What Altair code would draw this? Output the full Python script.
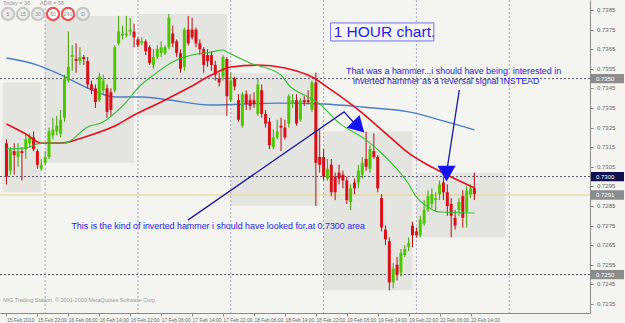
import json
import altair as alt
import pandas as pd

# ---------------- data (H1 bars, bar 0 = 15 Feb 2010 14:00) ----------------
bar_open = [0.7317, 0.7303, 0.7313, 0.7310, 0.7313, 0.7314, 0.7317, 0.7320, 0.7313, 0.7304,
            0.7307, 0.7310, 0.7321, 0.7323, 0.7322, 0.7330, 0.7349, 0.7361, 0.7360, 0.7359,
            0.7361, 0.7359, 0.7347, 0.7345, 0.7339, 0.7344, 0.7345, 0.7343, 0.7344, 0.7368,
            0.7372, 0.7372, 0.7374, 0.7374, 0.7370, 0.7368, 0.7369, 0.7366, 0.7357, 0.7361,
            0.7363, 0.7363, 0.7366, 0.7373, 0.7369, 0.7363, 0.7356, 0.7375, 0.7375, 0.7375,
            0.7368, 0.7365, 0.7362, 0.7362, 0.7357, 0.7350, 0.7351, 0.7360, 0.7339, 0.7350,
            0.7339, 0.7326, 0.7342, 0.7339, 0.7339, 0.7332, 0.7344, 0.7332, 0.7328, 0.7315,
            0.7320, 0.7326, 0.7325, 0.7327, 0.7337, 0.7339, 0.7329, 0.7339, 0.7339, 0.7334,
            0.7348, 0.7310, 0.7310, 0.7299, 0.7306, 0.7300, 0.7302, 0.7301, 0.7298, 0.7287,
            0.7297, 0.7297, 0.7301, 0.7309, 0.7304, 0.7313, 0.7310, 0.7289, 0.7273, 0.7267,
            0.7246, 0.7255, 0.7251, 0.7260, 0.7264, 0.7275, 0.7272, 0.7270, 0.7276, 0.7283,
            0.7286, 0.7288, 0.7291, 0.7297, 0.7292, 0.7286, 0.7279, 0.7283, 0.7290, 0.7282,
            0.7291, 0.7294]
bar_high = [0.7319, 0.7315, 0.7317, 0.7317, 0.7315, 0.7322, 0.7322, 0.7323, 0.7314, 0.7309,
            0.7313, 0.7325, 0.7330, 0.7331, 0.7334, 0.7352, 0.7374, 0.7367, 0.7368, 0.7366,
            0.7362, 0.7361, 0.7349, 0.7347, 0.7353, 0.7352, 0.7347, 0.7345, 0.7367, 0.7382,
            0.7377, 0.7382, 0.7381, 0.7378, 0.7371, 0.7371, 0.7370, 0.7367, 0.7365, 0.7367,
            0.7369, 0.7367, 0.7383, 0.7377, 0.7370, 0.7365, 0.7376, 0.7382, 0.7381, 0.7376,
            0.7370, 0.7366, 0.7365, 0.7364, 0.7359, 0.7353, 0.7362, 0.7361, 0.7353, 0.7351,
            0.7342, 0.7343, 0.7344, 0.7342, 0.7343, 0.7350, 0.7347, 0.7334, 0.7330, 0.7324,
            0.7329, 0.7330, 0.7329, 0.7342, 0.7342, 0.7342, 0.7340, 0.7341, 0.7344, 0.7349,
            0.7353, 0.7324, 0.7314, 0.7309, 0.7309, 0.7302, 0.7306, 0.7303, 0.7300, 0.7296,
            0.7299, 0.7306, 0.7310, 0.7323, 0.7316, 0.7322, 0.7311, 0.7291, 0.7275, 0.7269,
            0.7256, 0.7259, 0.7263, 0.7265, 0.7269, 0.7277, 0.7274, 0.7280, 0.7288, 0.7293,
            0.7294, 0.7292, 0.7298, 0.7300, 0.7296, 0.7289, 0.7283, 0.7289, 0.7293, 0.7295,
            0.7296, 0.7302]
bar_low = [0.7296, 0.7301, 0.7301, 0.7305, 0.7298, 0.7309, 0.7315, 0.7313, 0.7304, 0.7303,
           0.7306, 0.7309, 0.7319, 0.7321, 0.7320, 0.7328, 0.7348, 0.7354, 0.7353, 0.7357,
           0.7357, 0.7345, 0.7342, 0.7335, 0.7338, 0.7342, 0.7330, 0.7331, 0.7343, 0.7367,
           0.7370, 0.7371, 0.7372, 0.7366, 0.7366, 0.7367, 0.7362, 0.7357, 0.7355, 0.7360,
           0.7361, 0.7362, 0.7365, 0.7366, 0.7361, 0.7353, 0.7354, 0.7367, 0.7370, 0.7366,
           0.7362, 0.7353, 0.7356, 0.7354, 0.7349, 0.7346, 0.7349, 0.7331, 0.7338, 0.7344,
           0.7328, 0.7325, 0.7334, 0.7334, 0.7335, 0.7331, 0.7330, 0.7325, 0.7314, 0.7314,
           0.7319, 0.7313, 0.7319, 0.7325, 0.7335, 0.7326, 0.7328, 0.7336, 0.7337, 0.7333,
           0.7285, 0.7302, 0.7298, 0.7298, 0.7290, 0.7288, 0.7296, 0.7294, 0.7286, 0.7283,
           0.7291, 0.7294, 0.7299, 0.7303, 0.7302, 0.7309, 0.7292, 0.7272, 0.7265, 0.7242,
           0.7243, 0.7247, 0.7249, 0.7259, 0.7262, 0.7264, 0.7269, 0.7269, 0.7275, 0.7282,
           0.7284, 0.7282, 0.7288, 0.7288, 0.7280, 0.7269, 0.7273, 0.7280, 0.7274, 0.7274,
           0.7289, 0.7288]
bar_close = [0.7300, 0.7314, 0.7311, 0.7313, 0.7312, 0.7319, 0.7320, 0.7314, 0.7306, 0.7306,
             0.7310, 0.7323, 0.7324, 0.7326, 0.7329, 0.7350, 0.7356, 0.7362, 0.7359, 0.7361,
             0.7360, 0.7347, 0.7344, 0.7338, 0.7351, 0.7349, 0.7333, 0.7334, 0.7366, 0.7374,
             0.7373, 0.7373, 0.7375, 0.7371, 0.7367, 0.7369, 0.7364, 0.7358, 0.7361, 0.7365,
             0.7366, 0.7366, 0.7381, 0.7368, 0.7363, 0.7355, 0.7375, 0.7368, 0.7371, 0.7368,
             0.7365, 0.7357, 0.7359, 0.7357, 0.7352, 0.7348, 0.7361, 0.7341, 0.7349, 0.7346,
             0.7329, 0.7342, 0.7337, 0.7336, 0.7337, 0.7347, 0.7332, 0.7327, 0.7316, 0.7320,
             0.7323, 0.7325, 0.7320, 0.7341, 0.7339, 0.7327, 0.7339, 0.7338, 0.7338, 0.7348,
             0.7307, 0.7306, 0.7300, 0.7304, 0.7292, 0.7292, 0.7299, 0.7298, 0.7288, 0.7294,
             0.7294, 0.7303, 0.7307, 0.7305, 0.7314, 0.7310, 0.7294, 0.7274, 0.7268, 0.7246,
             0.7253, 0.7250, 0.7261, 0.7263, 0.7266, 0.7270, 0.7270, 0.7278, 0.7283, 0.7290,
             0.7291, 0.7289, 0.7296, 0.7292, 0.7285, 0.7280, 0.7275, 0.7287, 0.7279, 0.7293,
             0.7294, 0.7291]

# moving averages read at sample bars
ma_long_bar = [0, 8, 13, 21, 28, 35, 42, 53, 70, 82, 92, 104, 113, 121]
ma_long_val = [0.73605, 0.73569, 0.73529, 0.73452, 0.73406, 0.73406, 0.73391, 0.73365,
               0.73375, 0.73370, 0.73355, 0.73330, 0.73284, 0.73238]
ma_mid_bar = [0, 5, 9, 14, 21, 28, 33, 40, 47, 53, 58, 65, 72, 79, 84, 91, 98, 104, 109, 114, 121]
ma_mid_val = [0.73268, 0.73217, 0.73171, 0.73171, 0.73207, 0.73258, 0.73314, 0.73381, 0.73452,
              0.73518, 0.73559, 0.73569, 0.73554, 0.73508, 0.73442, 0.73340, 0.73222, 0.73120,
              0.73059, 0.73008, 0.72942]
ma_fast_bar = [0, 5, 9, 15, 21, 25, 28, 31, 34, 38, 44, 47, 53, 56, 57, 63, 71, 73, 78, 81,
               86, 93, 98, 104, 106, 109, 112, 121]
ma_fast_val = [0.73141, 0.73146, 0.73171, 0.73171, 0.73253, 0.73279, 0.73324, 0.73381, 0.73452,
               0.73518, 0.73595, 0.73615, 0.73636, 0.73646, 0.73636, 0.73580, 0.73518, 0.73467,
               0.73406, 0.73370, 0.73274, 0.73187, 0.73100, 0.72962, 0.72896, 0.72845, 0.72819,
               0.72814]

# daily range boxes
day_start = [-1, 10, 34, 58, 82, 106]
day_end = [9, 33, 57, 81, 105, 129]
day_high = [0.7348, 0.7382, 0.7383, 0.7353, 0.7323, 0.7302]
day_low = [0.7292, 0.7307, 0.7331, 0.7285, 0.7242, 0.7269]

date_label_bars = list(range(0, 121, 8))
date_labels = ["15 Feb 2010", "15 Feb 22:00", "16 Feb 06:00", "16 Feb 14:00", "16 Feb 22:00",
               "17 Feb 06:00", "17 Feb 14:00", "17 Feb 22:00", "18 Feb 06:00", "18 Feb 14:00",
               "18 Feb 22:00", "19 Feb 06:00", "19 Feb 14:00", "19 Feb 22:00", "22 Feb 06:00",
               "22 Feb 14:00"]
price_ticks = [0.7235, 0.7245, 0.7255, 0.7265, 0.7275, 0.7285, 0.7295, 0.7305, 0.7315,
               0.7325, 0.7335, 0.7345, 0.7355, 0.7365, 0.7375, 0.7385]
day_sep_bars = [10, 34, 58, 82, 106, 130]
level_lines = [0.7350, 0.7300, 0.7250]
bid_price = 0.72906

marker_prices = [0.7350, 0.7300, 0.72906, 0.7250]
marker_text = ["0.7350", "0.7300", "0.7291", "0.7250"]
marker_kind = ["grey", "navy", "grey", "grey"]

tf_buttons = ["5", "15", "30", "60", "240", "D"]
tf_active = [False, False, False, True, True, False]

# annotations anchored in (bar, price)
arrow1_bar = [46.9, 87.3, 89.6]
arrow1_price = [0.72778, 0.73330, 0.73280]
arrow2_bar = [117.1, 114.0]
arrow2_price = [0.73442, 0.73044]
notes = ["That was a hammer...i should have being\u00a0 interested in",
         "inverted hammer as a reversal signal INSTEAD",
         "This is the kind of inverted hammer i should have looked for.at 0.7300 area"]
notes_bar = [87.8, 89.6, 16.8]
notes_price = [0.73539, 0.73488, 0.72748]

# ---------------- chart ----------------
FONT = "Liberation Sans"
n = len(bar_open)
candles = pd.DataFrame({"bar": list(range(n)), "open": bar_open, "high": bar_high,
                        "low": bar_low, "close": bar_close})
candles["dir"] = ["up" if c >= o else "down" for o, c in zip(bar_open, bar_close)]

XS = alt.Scale(domain=[-0.38, 149.6], nice=False, zero=False)
YS = alt.Scale(domain=[0.72304, 0.73901], nice=False, zero=False)

XA = alt.Axis(values=date_label_bars, labelExpr=json.dumps(date_labels) + "[round(datum.value/8)]",
              orient="bottom", labelAlign="left", labelFontSize=4.9, labelColor="#6a6a6a",
              labelFont=FONT, tickSize=3, tickColor="#8a8a8a", domainColor="#8a8a8a",
              labelPadding=1, title=None, grid=False, labelOverlap=False, labelFlush=False)
YA = alt.Axis(values=price_ticks, orient="right", labels=False, tickSize=3,
              tickColor="#8a8a8a", domainColor="#8a8a8a", title=None, grid=False)


def X(f):
    return alt.X(f, scale=XS, axis=XA)


def Y(f):
    return alt.Y(f, scale=YS, axis=YA)


days = pd.DataFrame({"s": day_start, "e": day_end, "hi": day_high, "lo": day_low})
boxes = alt.Chart(days).mark_rect(color="#E4E4E0", clip=True).encode(
    x=X("s:Q"), x2="e:Q", y=Y("hi:Q"), y2="lo:Q")

seps = alt.Chart(pd.DataFrame({"b": day_sep_bars})).mark_rule(
    color="#A8A8C4", strokeDash=[2, 2], strokeWidth=1, clip=True).encode(x=X("b:Q"))

levels = alt.Chart(pd.DataFrame({"p": level_lines})).mark_rule(
    color="#55556a", strokeDash=[2, 2], strokeWidth=1).encode(y=Y("p:Q"))

bidline = alt.Chart(pd.DataFrame({"p": [bid_price]})).mark_rule(
    color="#F0D27A", strokeWidth=1).encode(y=Y("p:Q"))

wicks = alt.Chart(candles).mark_rule(strokeWidth=1, clip=True).encode(
    x=X("bar:Q"), y=Y("low:Q"), y2="high:Q",
    color=alt.Color("dir:N", scale=alt.Scale(domain=["up", "down"], range=["#3FA000", "#B01015"]),
                    legend=None))
bodies = alt.Chart(candles).mark_bar(size=3, clip=True).encode(
    x=X("bar:Q"), y=Y("open:Q"), y2="close:Q",
    color=alt.Color("dir:N", scale=alt.Scale(domain=["up", "down"], range=["#4CC800", "#D81018"]),
                    legend=None))


def ma_layer(bars, vals, color, w):
    d = pd.DataFrame({"b": bars, "v": vals})
    return alt.Chart(d).mark_line(color=color, strokeWidth=w, interpolate="monotone", clip=True).encode(
        x=X("b:Q"), y=Y("v:Q"))


ma_long = ma_layer(ma_long_bar, ma_long_val, "#4A7DC8", 1.4)
ma_mid = ma_layer(ma_mid_bar, ma_mid_val, "#E8101C", 1.6)
ma_fast = ma_layer(ma_fast_bar, ma_fast_val, "#2EC02E", 1.1)

arr1 = alt.Chart(pd.DataFrame({"b": arrow1_bar, "p": arrow1_price, "o": [0, 1, 2]})).mark_line(
    color="#1C1CA0", strokeWidth=1.3).encode(x=X("b:Q"), y=Y("p:Q"), order="o:Q")
arr2 = alt.Chart(pd.DataFrame({"b": arrow2_bar, "p": arrow2_price, "o": [0, 1]})).mark_line(
    color="#1C1CA0", strokeWidth=1.3).encode(x=X("b:Q"), y=Y("p:Q"), order="o:Q")
heads = alt.Chart(pd.DataFrame({"b": [90.6, 113.8], "p": [0.73263, 0.73029], "a": [135, 180]})).mark_point(
    shape="triangle", filled=True, size=330, color="#1414F0", opacity=1).encode(
    x=X("b:Q"), y=Y("p:Q"), angle=alt.Angle("a:Q", scale=None))

note_df = pd.DataFrame({"t": notes, "b": notes_bar, "p": notes_price})
note_text = alt.Chart(note_df).mark_text(align="left", baseline="middle", fontSize=8.9, font=FONT,
                                         color="#2424E6").encode(
    x=X("b:Q"), y=Y("p:Q"), text="t:N")

title_box = alt.Chart(pd.DataFrame({"b1": [83.8], "b2": [110.5], "p1": [0.73784], "p2": [0.73692]})).mark_rect(
    fill="#F6F6FA", stroke="#7070F0", strokeWidth=1).encode(
    x=X("b1:Q"), x2="b2:Q", y=Y("p1:Q"), y2="p2:Q")
title_text = alt.Chart(pd.DataFrame({"t": ["1 HOUR chart."], "b": [84.6], "p": [0.73738]})).mark_text(
    align="left", baseline="middle", fontSize=15.5, font=FONT, color="#1E1EF0").encode(
    x=X("b:Q"), y=Y("p:Q"), text="t:N")

# right-hand price labels
tick_df = pd.DataFrame({"p": price_ticks})
tick_text = alt.Chart(tick_df).transform_calculate(t="format(datum.p, '.4f')").mark_text(
    align="left", baseline="middle", fontSize=6, font=FONT, color="#6a6a6a").encode(
    x=alt.value(597), y=Y("p:Q"), text="t:N")

mk = pd.DataFrame({"p": marker_prices, "t": marker_text, "k": marker_kind})
mk_rect = alt.Chart(mk).transform_calculate(
    top="datum.p + 0.00024", bot="datum.p - 0.00024").mark_rect().encode(
    x=alt.value(591), x2=alt.value(624),
    y=Y("top:Q"), y2="bot:Q",
    color=alt.Color("k:N", scale=alt.Scale(domain=["grey", "navy"], range=["#8C8C8C", "#101050"]),
                    legend=None))
mk_text = alt.Chart(mk).mark_text(align="left", baseline="middle", fontSize=6, font=FONT,
                                  color="#FFFFFF").encode(
    x=alt.value(596), y=Y("p:Q"), text="t:N")

btn = pd.DataFrame({"t": tf_buttons, "i": list(range(len(tf_buttons))),
                    "k": ["on" if a else "off" for a in tf_active]})
btn_f = alt.Chart(btn).transform_calculate(px="8 + 15*datum.i").mark_point(
    shape="circle", size=110, filled=True, opacity=1).encode(
    x=alt.X("px:Q", scale=None, axis=None), y=alt.value(14),
    color=alt.Color("k:N", scale=alt.Scale(domain=["on", "off"], range=["#FFFFFF", "#EDEDED"]),
                    legend=None))
btn_c = alt.Chart(btn).transform_calculate(px="8 + 15*datum.i").mark_point(
    shape="circle", size=150, strokeWidth=2.2, filled=False).encode(
    x=alt.X("px:Q", scale=None, axis=None), y=alt.value(14),
    stroke=alt.Stroke("k:N", scale=alt.Scale(domain=["on", "off"], range=["#F01010", "#B4B4B4"]),
                      legend=None))
btn_t = alt.Chart(btn).transform_calculate(px="8 + 15*datum.i").mark_text(
    fontSize=5, font=FONT, color="#8A8A8A", baseline="middle").encode(
    x=alt.X("px:Q", scale=None, axis=None), y=alt.value(14), text="t:N")

hdr = alt.Chart(pd.DataFrame({"t": ["Today = 38", "ADR = 58"], "px": [3, 40]})).mark_text(
    align="left", baseline="top", fontSize=5.5, font=FONT, color="#9A9A9A").encode(
    x=alt.X("px:Q", scale=None, axis=None), y=alt.value(1), text="t:N")
footer = alt.Chart(pd.DataFrame({"t": ["MIG Trading Station, \u00a9 2001-2009 MetaQuotes Software Corp."]})).mark_text(
    align="left", baseline="middle", fontSize=5.5, font=FONT, color="#9A9A9A").encode(
    x=alt.value(3), y=alt.value(300), text="t:N")

chart = alt.layer(
    boxes, seps, levels, bidline, ma_long, wicks, bodies, ma_mid, ma_fast,
    arr1, arr2, heads, title_box, title_text, note_text, tick_text, mk_rect, mk_text,
    btn_f, btn_c, btn_t, hdr, footer
).resolve_scale(color="independent", stroke="independent").properties(
    width=590, height=313,
    autosize=alt.AutoSizeParams(type="none"),
    padding={"left": 0, "top": 0, "right": 35, "bottom": 10},
    background="#F4F4F1",
).configure_view(stroke=None, fill="#F4F4F1")

chart.save("out.html", embed_options={"renderer": "svg", "actions": False})
